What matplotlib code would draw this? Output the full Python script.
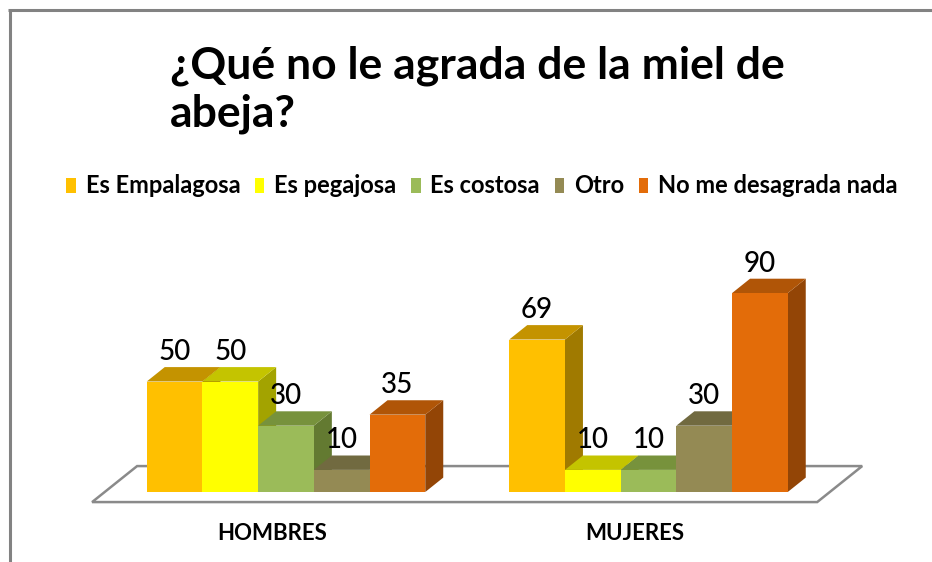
import matplotlib.pyplot as plt
from matplotlib.patches import Polygon, Patch
from matplotlib.lines import Line2D

plt.rcParams['font.family'] = ['Lato', 'DejaVu Sans']

# data
groups = ["HOMBRES", "MUJERES"]
series = ["Es Empalagosa", "Es pegajosa", "Es costosa", "Otro", "No me desagrada nada"]
hombres = [50, 50, 30, 10, 35]
mujeres = [69, 10, 10, 30, 90]
values = [hombres, mujeres]

front_colors = ["#FFC000", "#FFFF00", "#9BBB59", "#948A54", "#E36C09"]
top_colors = ["#C49300", "#C4C400", "#77923C", "#716A40", "#B05507"]
side_colors = ["#A07A00", "#A3A300", "#637A31", "#5E5835", "#934506"]

W, H = 932, 562
fig = plt.figure(figsize=(W / 100, H / 100), dpi=100, facecolor='white')
ax = fig.add_axes([0, 0, 1, 1])

# axis scale: group spacing in px, baseline px, px per value unit
x0_px, sp_px, base_px, ppu = 286, 362.5, 492, 2.21
ax.set_xlim(-x0_px / sp_px, (W - x0_px) / sp_px)
ax.set_ylim(-(H - base_px) / ppu, base_px / ppu)
ax.axis('off')

bw = 55.7 / sp_px          # bar width
ddx, ddy = 18 / sp_px, 14.4 / ppu   # 3D depth offset
n = len(series)

# floor slab
margin = 0.116
fl = -n / 2 * bw - margin
fr = len(groups) - 1 + n / 2 * bw + margin
f0, f1 = -0.7, 1.8
floor = Polygon([(fl + f0 * ddx, f0 * ddy), (fl + f1 * ddx, f1 * ddy),
                 (fr + f1 * ddx, f1 * ddy), (fr + f0 * ddx, f0 * ddy)],
                closed=True, facecolor='white', edgecolor='#8a8a8a', lw=1.8, zorder=1)
ax.add_patch(floor)

for g, vals in enumerate(values):
    for i, v in enumerate(vals):
        xc = g + (i - (n - 1) / 2) * bw
        xl, xr = xc - bw / 2, xc + bw / 2
        z = 2 + i * 3
        ax.add_patch(Polygon([(xr, 0), (xr, v), (xr + ddx, v + ddy), (xr + ddx, ddy)],
                             closed=True, facecolor=side_colors[i], edgecolor='none', zorder=z))
        ax.add_patch(Polygon([(xl, v), (xl + ddx, v + ddy), (xr + ddx, v + ddy), (xr, v)],
                             closed=True, facecolor=top_colors[i], edgecolor='none', zorder=z + 1))
        ax.bar(xc, v, width=bw, color=front_colors[i], edgecolor='none', zorder=z + 2)
        ax.text(xc, v + ddy + 6.8, str(v), ha='center', va='center', fontsize=20,
                weight='medium', color='black', zorder=50)
    ax.text(g - 14 / sp_px, (base_px - 534) / ppu, groups[g], ha='center', va='center',
            fontsize=16, weight='bold', color='black')

# title
fig.text(170 / W, 1 - 79 / H, "¿Qué no le agrada de la miel de", ha='left', va='baseline',
         fontsize=32, weight='bold', color='black')
fig.text(170 / W, 1 - 127 / H, "abeja?", ha='left', va='baseline',
         fontsize=32, weight='bold', color='black')

# legend
handles = [Patch(facecolor=c, edgecolor='none') for c in front_colors]
fig.legend(handles, series, loc='center', bbox_to_anchor=(482 / W, 1 - 186 / H), ncol=5,
           frameon=False, handlelength=0.4, handleheight=0.6, handletextpad=0.42,
           columnspacing=0.62, prop=dict(weight='bold', size=17))

# chart border (left and top edges visible)
fig.add_artist(Line2D([9.5 / W, 9.5 / W], [0.5 / H, 1 - 9.5 / H], transform=fig.transFigure,
                      color='#828282', lw=2.2, solid_capstyle='butt'))
fig.add_artist(Line2D([8.4 / W, 931.5 / W], [1 - 9.5 / H, 1 - 9.5 / H],
                      transform=fig.transFigure, color='#828282', lw=2.2,
                      solid_capstyle='butt'))

fig.savefig('out.png', dpi=100, facecolor='white')
